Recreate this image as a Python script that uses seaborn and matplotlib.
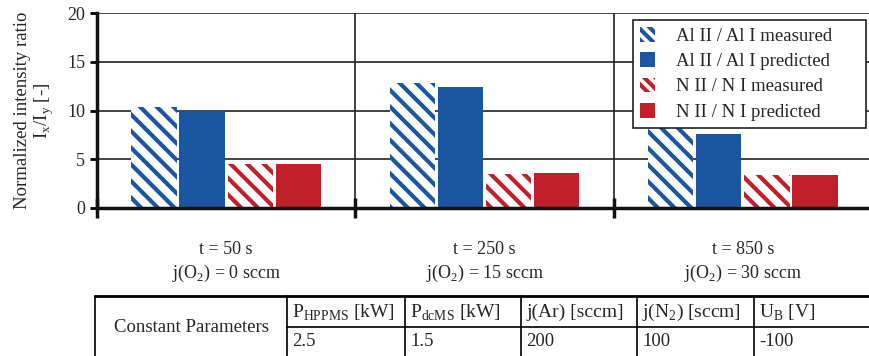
import numpy as np
import pandas as pd
import matplotlib
matplotlib.use("Agg")
import matplotlib.pyplot as plt
import seaborn as sns
from matplotlib.patches import Patch

# data
groups = ["t = 50 s\nj(O$_\\mathregular{2}$) = 0 sccm",
          "t = 250 s\nj(O$_\\mathregular{2}$) = 15 sccm",
          "t = 850 s\nj(O$_\\mathregular{2}$) = 30 sccm"]
series = ["Al II / Al I measured", "Al II / Al I predicted",
          "N II / N I measured", "N II / N I predicted"]
al_measured = [10.4, 12.8, 8.8]
al_predicted = [9.9, 12.4, 7.6]
n_measured = [4.5, 3.5, 3.4]
n_predicted = [4.5, 3.6, 3.4]

table_head = ["P$_\\mathregular{HPPMS}$ [kW]", "P$_\\mathregular{dcMS}$ [kW]", "j(Ar) [sccm]",
              "j(N$_\\mathregular{2}$) [sccm]", "U$_\\mathregular{B}$ [V]"]
table_vals = ["2.5", "1.5", "200", "100", "-100"]

blue = "#1b56a0"
red = "#c0202a"
colors = [blue, blue, red, red]

df = pd.DataFrame({
    "group": groups * 4,
    "series": np.repeat(series, 3),
    "value": al_measured + al_predicted + n_measured + n_predicted,
})

sns.set_style("white")
plt.rcParams["font.family"] = ["Liberation Serif", "DejaVu Serif"]
plt.rcParams["mathtext.fontset"] = "custom"
plt.rcParams["mathtext.rm"] = "Liberation Serif"
plt.rcParams["hatch.linewidth"] = 3.0

W, H = 869, 356
fig = plt.figure(figsize=(W / 100, H / 100), dpi=100)
ax = fig.add_axes([97 / W, 1 - 208 / H, (872 - 97) / W, (208 - 13) / H])

sns.barplot(data=df, x="group", y="value", hue="series", palette=colors,
            width=0.745, gap=0.06, ax=ax, legend=False, saturation=1)

# measured bars are white with diagonal stripes
for i, cont in enumerate(ax.containers):
    for bar in cont:
        bar.set_linewidth(0)
        if "measured" in series[i]:
            bar.set_facecolor("white")
            bar.set_edgecolor(colors[i])
            bar.set_hatch("\\\\")

ax.set_xlim(-0.5, 2.5)
ax.set_ylim(0, 20)
ax.set_yticks([0, 5, 10, 15, 20])
ax.set_xlabel("")
ax.set_ylabel("Normalized intensity ratio\nI$_\\mathregular{x}$/I$_\\mathregular{y}$ [-]",
              fontsize=13.5, labelpad=8, linespacing=1.1)
ax.tick_params(axis="y", labelsize=13, direction="out", length=5, width=2, color="black", left=True)
ax.tick_params(axis="x", which="major", labelsize=13, length=0, pad=24)
ax.set_xticks([-0.5, 0.5, 1.5], minor=True)
ax.tick_params(axis="x", which="minor", direction="inout", length=14, width=2.5, color="#111111", bottom=True)
for lab in ax.get_xticklabels():
    lab.set_linespacing(1.3)

ax.set_axisbelow(True)
ax.grid(axis="y", color="#222222", lw=1.2)
ax.grid(axis="x", which="minor", color="#222222", lw=1.2)
for s in ["top", "right"]:
    ax.spines[s].set_visible(False)
ax.spines["left"].set_linewidth(2.5)
ax.spines["bottom"].set_linewidth(2.5)
ax.spines["left"].set_color("#111111")
ax.spines["bottom"].set_color("#111111")

handles = []
for i, name in enumerate(series):
    if "measured" in name:
        handles.append(Patch(facecolor="white", edgecolor=colors[i], hatch="\\\\\\", lw=0, label=name))
    else:
        handles.append(Patch(facecolor=colors[i], lw=0, label=name))
leg = ax.legend(handles=handles, loc="upper left", bbox_to_anchor=(0.6916, 0, 0.3007, 0.964),
                mode="expand", fontsize=13.5,
                frameon=True, fancybox=False, edgecolor="#222222", framealpha=1,
                handlelength=0.85, handleheight=0.85, handletextpad=1.1, labelspacing=0.4,
                borderpad=0.35, borderaxespad=0)
leg.get_frame().set_linewidth(1.2)

# constant parameter table drawn in pixel coordinates
tab = fig.add_axes([0, 0, 1, 1])
tab.set_xlim(0, W)
tab.set_ylim(H, 0)
tab.axis("off")
cols = [287, 405, 521, 637, 754]
top, mid, bot = 296, 327, 358
tab.plot([95, W], [top, top], color="black", lw=2)
tab.plot([95, 95], [top, bot], color="black", lw=1.2)
tab.plot([cols[0], W], [mid, mid], color="black", lw=1.2)
for c in cols:
    tab.plot([c, c], [top, bot], color="black", lw=1.2)
tab.text(191, mid, "Constant Parameters", ha="center", va="center", fontsize=13.5)
for c, h, v in zip(cols, table_head, table_vals):
    tab.text(c + 5, (top + mid) / 2 + 1, h, ha="left", va="center", fontsize=14)
    tab.text(c + 5, (mid + bot) / 2 - 1, v, ha="left", va="center", fontsize=13.5)

fig.savefig("out.png", dpi=100)
